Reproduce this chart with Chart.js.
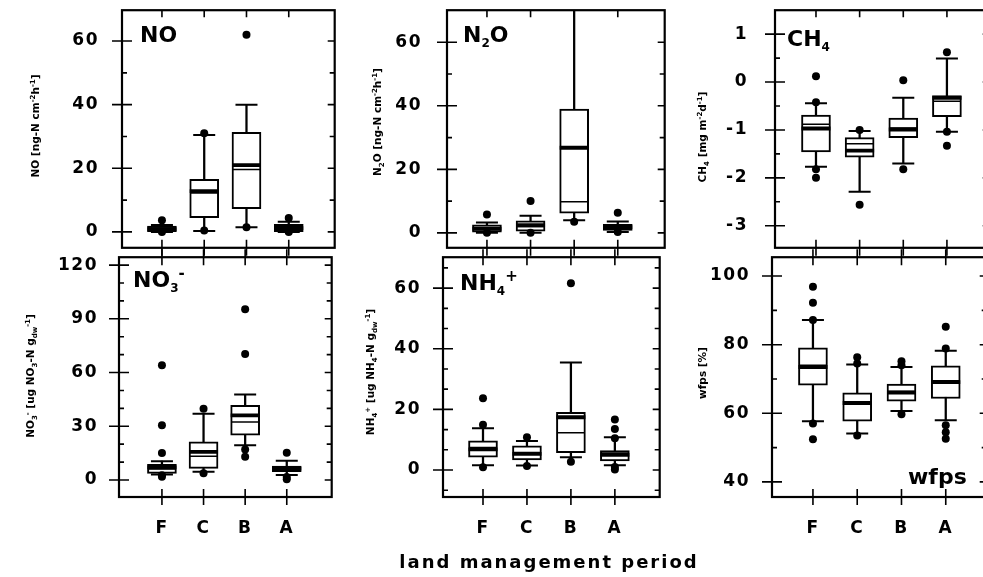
<!DOCTYPE html>
<html><head><meta charset="utf-8">
<script src="https://cdn.jsdelivr.net/npm/chart.js@4.4.1/dist/chart.umd.min.js"></script>
<style>
html,body{margin:0;padding:0;background:#fff;width:983px;height:577px;overflow:hidden;}
#stage{position:relative;width:983px;height:577px;overflow:hidden;background:#fff;}
.wrap{position:absolute;}
.ptitle{position:absolute;font-family:"DejaVu Sans";font-weight:bold;font-size:22px;line-height:22px;color:#000;white-space:nowrap;z-index:5;}
.ptitle sub{font-size:12px;vertical-align:-5px;line-height:0;}
.ptitle sup{font-size:15px;vertical-align:9px;line-height:0;}
.atitle{position:absolute;font-family:"DejaVu Sans";font-weight:bold;font-size:10.5px;line-height:12px;color:#000;white-space:nowrap;transform:translate(-50%,-50%) rotate(-90deg);z-index:5;}
.atitle sub,.atitle sup{font-size:7px;line-height:0;}
.xtitle{position:absolute;font-family:"DejaVu Sans";font-weight:bold;font-size:18px;line-height:18px;letter-spacing:2px;color:#000;white-space:nowrap;transform:translateX(-50%);z-index:5;}
</style></head>
<body><div id="stage"></div>
<script>
// ---------- data ----------
const categories = ['F', 'C', 'B', 'A'];

// NO
const noLow  = [0, 0.3, 1.5, 0];
const noQ1   = [0.1, 4.5, 7.3, 0.1];
const noMed  = [0.9, 12.8, 21.0, 1.2];
const noMean = [1.2, 12.2, 19.6, 1.6];
const noQ3   = [1.8, 16.5, 31.3, 2.4];
const noHigh = [2.2, 30.5, 40.0, 3.2];
const noOut  = [[3.7, 0], [31.0, 0.4], [62.0, 1.5], [4.4, 0]];
const noMajor = [0, 20, 40, 60];
const noMinor = [10, 30, 50];

// N2O
const n2oLow  = [0, 0, 4.0, 0.3];
const n2oQ1   = [0.2, 0.5, 6.2, 0.8];
const n2oMed  = [1.3, 2.4, 26.8, 1.8];
const n2oMean = [1.6, 2.0, 9.8, 2.1];
const n2oQ3   = [2.5, 3.8, 39.0, 2.7];
const n2oHigh = [3.3, 5.4, 100, 3.6];
const n2oOut  = [[5.8, 0], [10.0, 0], [3.5], [6.3, 0.3]];
const n2oMajor = [0, 20, 40, 60];
const n2oMinor = [10, 30, 50];

// CH4
const ch4Low  = [-1.77, -2.29, -1.70, -1.04];
const ch4Q1   = [-1.46, -1.57, -1.16, -0.72];
const ch4Med  = [-0.97, -1.43, -0.99, -0.33];
const ch4Mean = [-0.88, -1.29, -0.96, -0.40];
const ch4Q3   = [-0.69, -1.16, -0.75, -0.28];
const ch4High = [-0.44, -1.02, -0.33, 0.49];
const ch4Out  = [[0.12, -0.42, -1.82, -2.0], [-1.0, -2.56], [0.04, -1.82], [0.62, -1.04, -1.33]];
const ch4Major = [-3, -2, -1, 0, 1];
const ch4Minor = [-2.5, -1.5, -0.5, 0.5];

// NO3-
const no3Low  = [3.0, 4.6, 19.4, 2.8];
const no3Q1   = [3.7, 6.5, 25.0, 4.6];
const no3Med  = [7.0, 15.7, 36.1, 6.3];
const no3Mean = [6.2, 13.3, 32.4, 6.8];
const no3Q3   = [8.7, 21.3, 41.7, 7.8];
const no3High = [10.5, 37.0, 47.8, 10.7];
const no3Out  = [[15.0, 30.5, 64.0, 1.8, 2.6], [39.8, 3.7], [70.4, 95.4, 17.0, 13.0], [15.2, 0.4, 1.6]];
const no3Major = [0, 30, 60, 90, 120];
const no3Minor = [10, 20, 40, 50, 70, 80, 100, 110];

// NH4+
const nh4Low  = [1.6, 1.5, 4.2, 1.6];
const nh4Q1   = [4.2, 3.3, 5.7, 3.0];
const nh4Med  = [6.8, 5.3, 17.4, 5.0];
const nh4Mean = [7.4, 5.8, 12.3, 5.6];
const nh4Q3   = [9.6, 8.0, 19.0, 6.4];
const nh4High = [13.8, 9.6, 35.5, 10.8];
const nh4Out  = [[14.9, 23.7, 0.9], [10.8, 1.3], [61.6, 2.7], [10.5, 13.5, 16.7, 0.2, 1.0]];
const nh4Major = [0, 20, 40, 60];
const nh4Minor = [-6.67, 6.67, 13.33, 26.67, 33.33, 46.67, 53.33, 66.67];

// wfps
const wfpsLow  = [57.7, 54.1, 60.7, 58.0];
const wfpsQ1   = [68.2, 57.7, 63.5, 64.3];
const wfpsMed  = [73.5, 63.0, 66.0, 69.1];
const wfpsMean = [74.0, 63.3, 66.4, 69.5];
const wfpsQ3   = [79.1, 66.0, 68.5, 73.8];
const wfpsHigh = [87.2, 74.2, 73.5, 78.2];
const wfpsOut  = [[87.2, 92.2, 96.9, 57.0, 52.4], [76.3, 74.5, 53.5], [75.2, 74.0, 59.7], [85.2, 78.9, 56.5, 54.5, 52.6]];
const wfpsMajor = [40, 60, 80, 100];
const wfpsMinor = [50, 70, 90];

// ---------- layout (positions / styles) ----------
const panels = [
  {low:noLow, q1:noQ1, med:noMed, mean:noMean, q3:noQ3, high:noHigh, out:noOut, major:noMajor, minor:noMinor,
   L:122, R:335, T:10, B:248, xmin:0.055, xmax:5.087, ymin:-5.0, ymax:69.7, showX:false, topCross:false, pad:23},
  {low:n2oLow, q1:n2oQ1, med:n2oMed, mean:n2oMean, q3:n2oQ3, high:n2oHigh, out:n2oOut, major:n2oMajor, minor:n2oMinor,
   L:447, R:665, T:10, B:248, xmin:0.084, xmax:5.076, ymin:-4.7, ymax:70.1, showX:false, topCross:false, pad:25},
  {low:ch4Low, q1:ch4Q1, med:ch4Med, mean:ch4Mean, q3:ch4Q3, high:ch4High, out:ch4Out, major:ch4Major, minor:ch4Minor,
   L:775, R:990, T:10, B:248, xmin:0.061, xmax:4.98, ymin:-3.46, ymax:1.5, showX:false, topCross:false, pad:27},
  {low:no3Low, q1:no3Q1, med:no3Med, mean:no3Mean, q3:no3Q3, high:no3High, out:no3Out, major:no3Major, minor:no3Minor,
   L:119, R:332, T:257, B:497, xmin:-0.032, xmax:5.08, ymin:-9.5, ymax:124.4, showX:true, topCross:true, pad:21},
  {low:nh4Low, q1:nh4Q1, med:nh4Med, mean:nh4Mean, q3:nh4Q3, high:nh4High, out:nh4Out, major:nh4Major, minor:nh4Minor,
   L:443, R:660, T:257, B:497, xmin:0.09, xmax:5.02, ymin:-8.9, ymax:70.2, showX:true, topCross:true, pad:22},
  {low:wfpsLow, q1:wfpsQ1, med:wfpsMed, mean:wfpsMean, q3:wfpsQ3, high:wfpsHigh, out:wfpsOut, major:wfpsMajor, minor:wfpsMinor,
   L:772, R:987, T:257, B:497, xmin:0.075, xmax:4.925, ymin:35.6, ymax:105.5, showX:true, topCross:true, pad:22}
];

const panelTitles = [
  {html:'NO', left:140, top:24},
  {html:'N<sub>2</sub>O', left:463, top:24},
  {html:'CH<sub>4</sub>', left:787, top:28},
  {html:'NO<sub>3</sub><sup>-</sup>', left:133, top:269},
  {html:'NH<sub>4</sub><sup>+</sup>', left:460, top:272},
  {html:'wfps', left:908, top:466}
];
const axisTitles = [
  {html:'NO [ng-N cm<sup>-2</sup>h<sup>-1</sup>]', cx:35, cy:126},
  {html:'N<sub>2</sub>O [ng-N cm<sup>-2</sup>h<sup>-1</sup>]', cx:377, cy:122},
  {html:'CH<sub>4</sub> [mg m<sup>-2</sup>d<sup>-1</sup>]', cx:702, cy:137},
  {html:'NO<sub>3</sub><sup>-</sup> [ug NO<sub>3</sub>-N g<sub>dw</sub><sup>-1</sup>]', cx:30, cy:376},
  {html:'NH<sub>4</sub><sup>+</sup> [ug NH<sub>4</sub>-N g<sub>dw</sub><sup>-1</sup>]', cx:370, cy:372},
  {html:'wfps [%]', cx:702, cy:373}
];
const xTitle = 'land management period';

// ---------- chart ----------
Chart.defaults.font.family = '"DejaVu Sans"';
Chart.defaults.font.size = 17;
Chart.defaults.font.weight = 'bold';
Chart.defaults.color = '#000';

const framePlugin = {
  id: 'frame',
  beforeDraw(c) { c.ctx.letterSpacing = '1.5px'; },
  afterDraw(c, args, opts) {
    const ctx = c.ctx;
    ctx.letterSpacing = '0px';
    const {left, right, top, bottom} = c.chartArea;
    const x = c.scales.x, y = c.scales.y;
    ctx.save();
    ctx.strokeStyle = '#000';
    ctx.lineCap = 'butt';
    ctx.lineWidth = 1.6;
    ctx.beginPath();
    y.ticks.forEach(t => {
      const py = y.getPixelForValue(t.value);
      if (t.label !== '' && t.label != null) {
        ctx.moveTo(left - 10, py); ctx.lineTo(left + 10, py);
        ctx.moveTo(right - 7, py); ctx.lineTo(right, py);
      } else {
        ctx.moveTo(left, py); ctx.lineTo(left + 5, py);
        ctx.moveTo(right - 5, py); ctx.lineTo(right, py);
      }
    });
    x.ticks.forEach(t => {
      const px = x.getPixelForValue(t.value);
      if (opts.topCross) { ctx.moveTo(px, top - 8); ctx.lineTo(px, top + 8); }
      else { ctx.moveTo(px, top); ctx.lineTo(px, top + 7); }
      ctx.moveTo(px, bottom - 8); ctx.lineTo(px, bottom + 8);
    });
    ctx.stroke();
    ctx.lineWidth = 2.2;
    ctx.strokeRect(left, top, right - left, bottom - top);
    ctx.restore();
  }
};

function buildConfig(p) {
  const xs = categories.map((c, i) => i + 1);
  const whisk = xs.map((x, i) => ({x, y: [p.low[i], p.high[i]]}));
  const boxes = xs.map((x, i) => ({x, y: [p.q1[i], p.q3[i]]}));
  const caps = xs.flatMap((x, i) => [{x, y: p.low[i]}, {x, y: p.high[i]}]);
  const means = xs.map((x, i) => ({x, y: p.mean[i]}));
  const meds = xs.map((x, i) => ({x, y: p.med[i]}));
  const outs = xs.flatMap((x, i) => p.out[i].map(v => ({x, y: v})));
  const isMajor = v => p.major.some(m => Math.abs(m - v) < 1e-6);
  return {
    type: 'bar',
    data: {datasets: [
      {type: 'bar', data: whisk, backgroundColor: '#000', borderWidth: 0, barThickness: 1.6, grouped: false, order: 6},
      {type: 'bar', data: boxes, backgroundColor: '#fff', borderColor: '#000', borderWidth: 2, borderSkipped: false, barThickness: 29, grouped: false, order: 5},
      {type: 'scatter', data: caps, pointStyle: 'line', pointRadius: 11, borderColor: '#000', backgroundColor: '#000', borderWidth: 2, order: 4},
      {type: 'scatter', data: means, pointStyle: 'line', pointRadius: 14, borderColor: '#000', backgroundColor: '#000', borderWidth: 1.5, order: 3},
      {type: 'scatter', data: meds, pointStyle: 'line', pointRadius: 14.5, borderColor: '#000', backgroundColor: '#000', borderWidth: 3.8, order: 2},
      {type: 'scatter', data: outs, pointStyle: 'circle', pointRadius: 4, backgroundColor: '#000', borderColor: '#000', borderWidth: 0, order: 1}
    ]},
    options: {
      responsive: false, maintainAspectRatio: false, animation: false, events: [],
      layout: {padding: {top: 14, right: 14, left: 0, bottom: 2}},
      plugins: {legend: {display: false}, tooltip: {enabled: false}, frame: {topCross: p.topCross}},
      scales: {
        x: {type: 'linear', min: p.xmin, max: p.xmax, offset: false,
            grid: {display: false, drawTicks: false}, border: {display: false},
            afterBuildTicks: s => { s.ticks = xs.map(v => ({value: v})); },
            afterFit: s => { s.height = p.showX ? 52 : 12; },
            ticks: {display: p.showX, autoSkip: false, maxRotation: 0, padding: 21,
                    callback: v => categories[Math.round(v) - 1] || ''}},
        y: {type: 'linear', min: p.ymin, max: p.ymax, beginAtZero: false,
            grid: {display: false, drawTicks: false}, border: {display: false},
            afterBuildTicks: s => { s.ticks = p.major.concat(p.minor).sort((a, b) => a - b).map(v => ({value: v})); },
            afterFit: s => { s.width = 100; },
            ticks: {autoSkip: false, padding: p.pad,
                    callback: v => isMajor(v) ? String(p.major.find(m => Math.abs(m - v) < 1e-6)) : ''}}
      }
    },
    plugins: [framePlugin]
  };
}

const stage = document.getElementById('stage');

function mount(p) {
  const wrap = document.createElement('div');
  wrap.className = 'wrap';
  const cv = document.createElement('canvas');
  wrap.appendChild(cv);
  stage.appendChild(wrap);
  const pw = p.R - p.L, ph = p.B - p.T;
  let W = pw + 130, H = ph + 80;
  cv.width = W; cv.height = H; cv.style.width = W + 'px'; cv.style.height = H + 'px';
  let ch = new Chart(cv, buildConfig(p));
  let ca = ch.chartArea;
  const mL = ca.left, mT = ca.top, mR = W - ca.right, mB = H - ca.bottom;
  ch.destroy();
  W = Math.round(mL + pw + mR); H = Math.round(mT + ph + mB);
  cv.width = W; cv.height = H; cv.style.width = W + 'px'; cv.style.height = H + 'px';
  ch = new Chart(cv, buildConfig(p));
  ca = ch.chartArea;
  wrap.style.left = (p.L - ca.left) + 'px';
  wrap.style.top = (p.T - ca.top) + 'px';
}
panels.forEach(mount);

panelTitles.forEach(t => {
  const d = document.createElement('div');
  d.className = 'ptitle';
  d.innerHTML = t.html;
  d.style.left = t.left + 'px'; d.style.top = t.top + 'px';
  stage.appendChild(d);
});
axisTitles.forEach(t => {
  const d = document.createElement('div');
  d.className = 'atitle';
  d.innerHTML = t.html;
  d.style.left = t.cx + 'px'; d.style.top = t.cy + 'px';
  stage.appendChild(d);
});
const xt = document.createElement('div');
xt.className = 'xtitle';
xt.textContent = xTitle;
xt.style.left = '549px'; xt.style.top = '553px';
stage.appendChild(xt);
</script>
</body></html>
